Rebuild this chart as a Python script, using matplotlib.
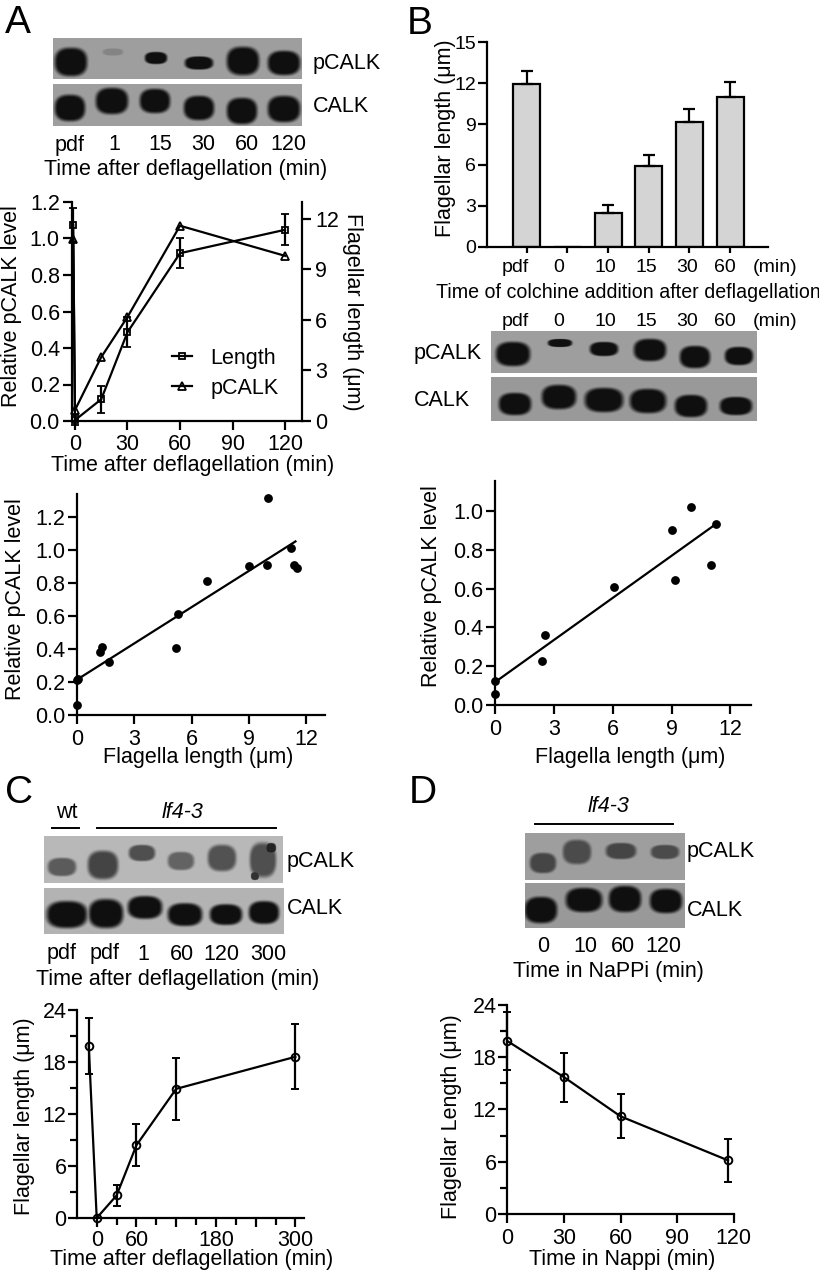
import numpy as np
import matplotlib
matplotlib.use("Agg")
import matplotlib.pyplot as plt
from matplotlib.transforms import Affine2D
from matplotlib.ticker import MultipleLocator, FixedLocator

plt.rcParams['font.family'] = ['Liberation Sans', 'DejaVu Sans']

# ---------- data ----------
a_time_len = [-1, 0, 15, 30, 60, 120]
a_length = [11.65, 0.05, 1.29, 5.27, 9.96, 11.35]
a_length_err = [1.0, 0.3, 0.81, 0.9, 0.89, 0.93]
a_time_p = [-1, 0, 15, 30, 60, 120]
a_pcalk = [1.0, 0.06, 0.35, 0.57, 1.07, 0.905]

sa_x = [0, 0, 0.05, 1.2, 1.3, 1.65, 5.2, 5.3, 6.8, 9, 9.95, 10, 11.2, 11.35, 11.55]
sa_y = [0.06, 0.21, 0.22, 0.38, 0.41, 0.32, 0.405, 0.61, 0.81, 0.9, 0.91, 1.315, 1.01, 0.91, 0.89]
sa_fit_x = [0, 11.45]
sa_fit_y = [0.215, 1.05]

b_cats = ['pdf', '0', '10', '15', '30', '60']
b_len = [11.93, 0, 2.49, 5.92, 9.15, 10.95]
b_err = [0.97, 0, 0.6, 0.8, 0.95, 1.15]

sb_x = [0, 0, 2.4, 2.55, 6.05, 9, 9.2, 10, 11, 11.25]
sb_y = [0.06, 0.125, 0.23, 0.36, 0.61, 0.9, 0.645, 1.02, 0.72, 0.93]
sb_fit_x = [0, 11.25]
sb_fit_y = [0.12, 0.93]

c_time = [-12, 0, 30, 60, 120, 300]
c_len = [19.84, 0, 2.6, 8.4, 14.9, 18.6]
c_err = [3.27, 0, 1.2, 2.4, 3.6, 3.77]

d_time = [0, 30, 60, 117]
d_len = [19.84, 15.7, 11.2, 6.15]
d_err = [3.29, 2.8, 2.52, 2.5]

W, H = 819, 1274
fig = plt.figure(figsize=(W / 100, H / 100), dpi=100)
PX = Affine2D().scale(1, -1).translate(0, H)
LW = 1.6
FS = 15.5


def T(x, y, s, size=FS, ha='center', va='center', **kw):
    return fig.text(x, y, s, transform=PX, fontsize=size, ha=ha, va=va, **kw)


def make_ax(x0, x1, ytop, ybot, xlim, ylim, xpad=3.5, ypad=2.5):
    ax = fig.add_axes([x0 / W, 1 - ybot / H, (x1 - x0) / W, (ybot - ytop) / H])
    ax.set_xlim(*xlim)
    ax.set_ylim(*ylim)
    ax.patch.set_alpha(0)
    for s in ['top', 'right']:
        ax.spines[s].set_visible(False)
    for s in ['left', 'bottom']:
        ax.spines[s].set_linewidth(LW)
    ax.tick_params(which='major', length=6.3, width=LW, labelsize=FS)
    ax.tick_params(which='minor', length=4.8, width=LW)
    ax.tick_params(axis='x', which='major', pad=xpad)
    ax.tick_params(axis='y', which='major', pad=ypad)
    return ax


def xlab(ax, s, x, y, **kw):
    ax.set_xlabel(s, fontsize=FS, va='center', **kw)
    ax.xaxis.set_label_coords(x, y, transform=PX)


def ylab(ax, s, x, y, **kw):
    ax.set_ylabel(s, fontsize=FS, va='center', **kw)
    ax.yaxis.set_label_coords(x, y, transform=PX)


def blot(x0, x1, y0, y1, bg, bands):
    xs, ys = np.meshgrid(np.arange(x0, x1) + .5, np.arange(y0, y1) + .5)
    img = np.full(xs.shape, bg, float)
    cover = np.zeros(xs.shape)
    for cx, cy, wx, wy, level in bands:
        r = (np.abs((xs - cx) / wx) ** 2.6 + np.abs((ys - cy) / wy) ** 2.6) ** (1 / 2.6)
        a = np.clip((1.2 - r) / 0.4, 0, 1)
        a = a * a * (3 - 2 * a)
        cover = np.maximum(cover, a * level)
    img = img * (1 - cover) + 0.06 * cover
    ax = fig.add_axes([x0 / W, 1 - y1 / H, (x1 - x0) / W, (y1 - y0) / H])
    ax.imshow(img, cmap='gray', vmin=0, vmax=1, aspect='auto', interpolation='bilinear')
    ax.axis('off')


# ---------- panel letters ----------
for s, x, y in [('A', 18, 23), ('B', 420, 24), ('C', 19, 793), ('D', 423, 793)]:
    T(x, y, s, size=28)

# ---------- panel A blots ----------
blot(53, 302, 38, 79, 0.62, [(71, 62, 16, 14, 1), (113, 52, 10, 3.5, .18), (156, 58, 11, 6, 1),
                             (199, 63, 14, 6.5, 1), (243, 61, 16, 14, 1), (284, 63, 16, 12, 1)])
blot(53, 302, 84, 126, 0.62, [(70, 108, 15, 13, 1), (112, 101, 16, 13, 1), (155, 101, 15, 12, 1),
                              (199, 108, 15, 12, 1), (242, 111, 15, 13, 1), (284, 109, 16, 13, 1)])
T(313, 64, 'pCALK', ha='left')
T(313, 106, 'CALK', ha='left')
for s, x in zip(['pdf', '1', '15', '30', '60', '120'], [70, 114, 160, 203, 247, 288]):
    T(x, 145, s)
T(186, 170, 'Time after deflagellation (min)')

# ---------- panel A line plot ----------
ax = make_ax(72, 302, 202, 421, (-1.7, 129.7), (0, 1.2), xpad=3)
axr = ax.twinx()
axr.set_ylim(0, 13)
axr.patch.set_alpha(0)
for s in ['top', 'left', 'bottom']:
    axr.spines[s].set_visible(False)
axr.spines['right'].set_linewidth(LW)
axr.yaxis.set_major_locator(MultipleLocator(3))
axr.tick_params(length=6.3, width=LW, labelsize=FS, pad=3)
ax.xaxis.set_major_locator(FixedLocator([0, 30, 60, 90, 120]))
ax.yaxis.set_major_locator(MultipleLocator(0.2))
l2, = ax.plot(a_time_p, a_pcalk, '-^', color='k', lw=LW, ms=6, mfc='none', mew=1.3, clip_on=False)
l1 = axr.errorbar(a_time_len, a_length, yerr=a_length_err, fmt='-s', color='k', lw=LW, ms=5, mfc='none',
                  mew=1.3, capsize=3, capthick=LW, elinewidth=LW, clip_on=False)
for c in l1[1] + l1[2]:
    c.set_clip_on(False)
leg = fig.legend([l1[0], l2], ['Length', 'pCALK'], loc='center left', bbox_to_anchor=(172, 373.5),
                 bbox_transform=PX, frameon=False, fontsize=FS, handlelength=0.95, handletextpad=0.85,
                 labelspacing=0.42, borderpad=0, borderaxespad=0)
xlab(ax, 'Time after deflagellation (min)', 193, 465)
ylab(ax, 'Relative pCALK level', 12, 306)
ylab(axr, 'Flagellar length (μm)', 352, 312, rotation=270)

# ---------- scatter A ----------
ax = make_ax(77.3, 325, 494, 715, (0, 13), (0, 1.337))
ax.xaxis.set_major_locator(MultipleLocator(3))
ax.yaxis.set_major_locator(MultipleLocator(0.2))
ax.plot(sa_fit_x, sa_fit_y, color='k', lw=LW)
ax.scatter(sa_x, sa_y, s=40, color='k', clip_on=False, zorder=3, linewidths=0)
xlab(ax, 'Flagella length (μm)', 198, 758)
ylab(ax, 'Relative pCALK level', 16, 599)

# ---------- panel B bars ----------
ax = make_ax(486.7, 768, 42.3, 246.7, (-0.983, 5.93), (0, 15))
pos = np.arange(len(b_cats))
ax.bar(pos, b_len, width=0.66, color='#d4d4d4', edgecolor='k', linewidth=LW)
ax.errorbar(pos[[0, 2, 3, 4, 5]], np.array(b_len)[[0, 2, 3, 4, 5]],
            yerr=[np.zeros(5), np.array(b_err)[[0, 2, 3, 4, 5]]],
            fmt='none', ecolor='k', elinewidth=LW, capsize=4, capthick=LW)
ax.set_xticks(pos)
ax.set_xticklabels([])
ax.yaxis.set_major_locator(MultipleLocator(3))
ax.tick_params(axis='y', labelsize=14, pad=1.5)
ax.tick_params(axis='x', length=4)
ylab(ax, 'Flagellar length (μm)', 445, 138)
b_lab_x = [515, 559, 605, 646, 687, 725]
for s, x in zip(b_cats, b_lab_x):
    T(x, 267, s, size=14)
    T(x, 322, s, size=14)
T(775, 267, '(min)', size=14)
T(775, 322, '(min)', size=14)
T(628, 293, 'Time of colchine addition after deflagellation', size=14.1)

blot(491, 757, 331, 373, 0.62, [(513, 354, 17, 12, 1), (560, 343, 12, 4, 1), (604, 349, 14, 7, 1),
                                (650, 350, 16, 11, 1), (695, 357, 15, 11, 1), (739, 356, 14, 9, 1)])
blot(491, 757, 377, 421, 0.60, [(515, 404, 16, 11, 1), (559, 397, 17, 12, 1), (604, 400, 19, 12, 1),
                                (648, 401, 18, 12, 1), (691, 406, 16, 11, 1), (736, 406, 16, 9, 1)])
T(414, 354, 'pCALK', ha='left')
T(414, 401, 'CALK', ha='left')

# ---------- scatter B ----------
ax = make_ax(495.3, 751, 480.7, 705.3, (0, 13.06), (0, 1.154))
ax.xaxis.set_major_locator(MultipleLocator(3))
ax.yaxis.set_major_locator(MultipleLocator(0.2))
ax.plot(sb_fit_x, sb_fit_y, color='k', lw=LW)
ax.scatter(sb_x, sb_y, s=40, color='k', clip_on=False, zorder=3, linewidths=0)
xlab(ax, 'Flagella length (μm)', 630, 757)
ylab(ax, 'Relative pCALK level', 431, 586)

# ---------- panel C ----------
T(67, 813, 'wt')
T(183, 813, 'lf4-3', style='italic')
fig.add_artist(plt.Line2D([52, 79], [828, 828], transform=PX, color='k', lw=1.4))
fig.add_artist(plt.Line2D([97, 276], [828, 828], transform=PX, color='k', lw=1.4))
blot(44, 283, 836, 883, 0.72, [(62, 867, 14, 9, .55), (103, 865, 15, 14, .68), (142, 853, 13, 8, .62),
                               (181, 861, 13, 9, .5), (222, 858, 14, 13, .6), (263, 860, 13, 17, .62),
                               (271, 848, 5, 5, .88), (255, 876, 4, 4, .8)])
blot(44, 284, 888, 934, 0.70, [(67, 915, 20, 13, 1), (106, 914, 17, 14, 1), (145, 908, 17, 11, 1),
                               (185, 915, 17, 11, 1), (226, 915, 16, 10, 1), (264, 913, 15, 11, 1)])
T(287, 861, 'pCALK', ha='left')
T(287, 908, 'CALK', ha='left')
for s, x in zip(['pdf', 'pdf', '1', '60', '120', '300'], [62, 105, 143, 182, 221, 268]):
    T(x, 954, s)
T(178, 980, 'Time after deflagellation (min)')

ax = make_ax(77.3, 304, 1010, 1218, (-29.3, 313), (0, 24), xpad=2.5, ypad=1.5)
ax.xaxis.set_major_locator(FixedLocator([0, 60, 120, 180, 240, 300]))
ax.set_xticklabels(['0', '60', '', '180', '', '300'])
ax.xaxis.set_minor_locator(MultipleLocator(30))
ax.yaxis.set_major_locator(MultipleLocator(6))
ax.yaxis.set_minor_locator(MultipleLocator(3))
eb = ax.errorbar(c_time, c_len, yerr=c_err, fmt='-o', color='k', lw=LW, ms=5.5, mfc='none', mew=1.4,
                 capsize=3, capthick=LW, elinewidth=LW, clip_on=False)
for c in eb[1] + eb[2]:
    c.set_clip_on(False)
xlab(ax, 'Time after deflagellation (min)', 192, 1259)
ylab(ax, 'Flagellar length (μm)', 25, 1116)

# ---------- panel D ----------
T(609, 807, 'lf4-3', style='italic')
fig.add_artist(plt.Line2D([535, 673], [824, 824], transform=PX, color='k', lw=1.4))
blot(525, 685, 833, 880, 0.62, [(543, 863, 13, 10, .62), (577, 852, 14, 12, .58), (621, 851, 15, 8, .62),
                                (665, 852, 14, 7, .58)])
blot(525, 685, 883, 928, 0.60, [(541, 910, 16, 13, 1), (584, 900, 18, 12, 1), (625, 899, 16, 13, 1),
                                (666, 901, 16, 12, 1)])
T(687, 852, 'pCALK', ha='left')
T(687, 910, 'CALK', ha='left')
for s, x in zip(['0', '10', '60', '120'], [543, 585, 623, 663]):
    T(x, 946, s)
T(608, 972, 'Time in NaPPi (min)')

ax = make_ax(507.3, 733.7, 1004.7, 1214, (0, 120), (0, 24), ypad=1.5)
ax.xaxis.set_major_locator(MultipleLocator(30))
ax.yaxis.set_major_locator(MultipleLocator(6))
ax.yaxis.set_minor_locator(MultipleLocator(3))
eb = ax.errorbar(d_time, d_len, yerr=d_err, fmt='-o', color='k', lw=LW, ms=5.5, mfc='none', mew=1.4,
                 capsize=3, capthick=LW, elinewidth=LW, clip_on=False)
for c in eb[1] + eb[2]:
    c.set_clip_on(False)
xlab(ax, 'Time in Nappi (min)', 622, 1259)
ylab(ax, 'Flagellar Length (μm)', 451, 1117)

fig.savefig('out.png', dpi=100)
